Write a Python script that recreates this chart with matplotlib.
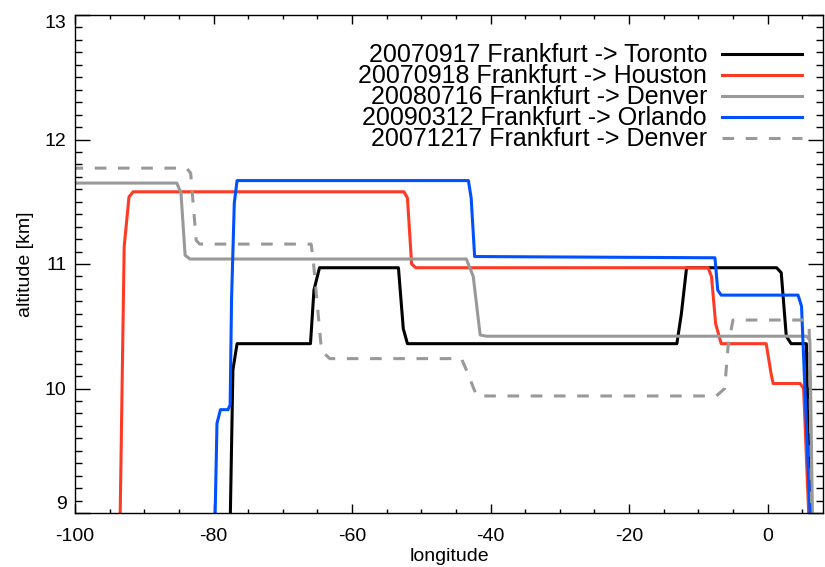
#!/usr/bin/env python3

import matplotlib
matplotlib.use("Agg")
import matplotlib.pyplot as plt
from matplotlib.ticker import MultipleLocator

plt.rcParams['font.family'] = ['Liberation Sans', 'DejaVu Sans']
plt.rcParams['axes.unicode_minus'] = False

# flight tracks: longitude [deg] vs altitude [km]
toronto_lon = [-77.6, -77.2, -76.6, -66.0, -65.5, -64.7, -53.3, -52.6, -52.0,
               -13.1, -12.45, -11.7, 1.3, 1.97, 2.7, 3.4, 5.6, 6.1]
toronto_alt = [8.9, 10.15, 10.36, 10.36, 10.79, 10.97, 10.97, 10.48, 10.36,
               10.36, 10.6, 10.97, 10.97, 10.93, 10.42, 10.36, 10.36, 9.0]

houston_lon = [-93.5, -92.9, -92.2, -91.6, -52.5, -52.0, -51.4, -50.8, -8.6,
               -8.1, -7.5, -6.7, -0.2, 0.5, 0.8, 4.7, 5.2, 6.0]
houston_alt = [8.9, 11.14, 11.54, 11.58, 11.58, 11.53, 11.0, 10.97, 10.97,
               10.9, 10.52, 10.36, 10.36, 10.12, 10.04, 10.04, 10.0, 8.9]

denver08_lon = [-100.5, -85.3, -84.7, -84.1, -83.4, -43.5, -42.5, -41.5, -40.6,
                5.6, 6.1, 6.5]
denver08_alt = [11.65, 11.65, 11.57, 11.07, 11.04, 11.04, 10.9, 10.43, 10.42,
                10.42, 10.39, 8.9]

orlando_lon = [-79.8, -79.5, -79.0, -77.9, -77.6, -77.4, -77.0, -76.6, -43.2,
               -42.8, -42.3, -7.6, -7.2, -6.7, 4.4, 4.9, 6.2]
orlando_alt = [8.9, 9.72, 9.83, 9.83, 9.87, 10.71, 11.49, 11.67, 11.67,
               11.53, 11.06, 11.05, 10.79, 10.75, 10.75, 10.66, 8.9]

denver07_lon = [-100.5, -83.9, -83.3, -82.5, -82.0, -65.9, -65.6, -64.4, -63.2,
                -44.2, -43.5, -42.0, -7.4, -6.2, -5.7, -5.0, 5.5, 6.0, 6.4]
denver07_alt = [11.77, 11.77, 11.73, 11.19, 11.16, 11.16, 11.03, 10.30, 10.24,
                10.24, 10.15, 9.94, 9.94, 10.0, 10.34, 10.55, 10.55, 10.5, 8.9]

labels = ['20070917 Frankfurt -> Toronto',
          '20070918 Frankfurt -> Houston',
          '20080716 Frankfurt -> Denver',
          '20090312 Frankfurt -> Orlando',
          '20071217 Frankfurt -> Denver']

alt_ticks = [9, 10, 11, 12, 13]

fig = plt.figure(figsize=(8.25, 5.67), dpi=100)
ax = fig.add_axes([75/825, 54/567, 748/825, 498/567])

lw = 2.2
ax.plot(toronto_lon, toronto_alt, color='black', lw=lw, label=labels[0])
ax.plot(houston_lon, houston_alt, color='#ff3a24', lw=lw, label=labels[1])
ax.plot(denver08_lon, denver08_alt, color='#999999', lw=lw, label=labels[2])
ax.plot(orlando_lon, orlando_alt, color='#0050ff', lw=lw, label=labels[3])
ax.plot(denver07_lon, denver07_alt, color='#999999', lw=lw, ls=(0, (3.8, 3.8)),
        label=labels[4])

ax.set_xlim(-100, 8)
ax.set_ylim(9, 13)
ax.xaxis.set_major_locator(MultipleLocator(20))
ax.xaxis.set_minor_locator(MultipleLocator(5))
ax.set_yticks(alt_ticks)
ax.yaxis.set_minor_locator(MultipleLocator(0.1))

ax.tick_params(which='both', direction='in', top=True, right=True, width=1,
               labelsize=14)
ax.tick_params(axis='x', which='major', length=6.5, pad=10.5)
ax.tick_params(axis='x', which='minor', length=3)
ax.tick_params(axis='y', which='major', length=10.8, pad=6)
ax.tick_params(axis='y', which='minor', length=5)
for s in ax.spines.values():
    s.set_linewidth(1)

# end labels stay inside the axis range
ylbls = ax.get_yticklabels()
ylbls[0].set_va('bottom')
ylbls[-1].set_va('top')

ax.set_xlabel('longitude', fontsize=14, labelpad=2.5)
ax.set_ylabel('altitude [km]', fontsize=14, labelpad=8)

ax.legend(loc='upper right', bbox_to_anchor=(0.972, 0.943), frameon=False,
          markerfirst=False, fontsize=18, handlelength=3.2, handletextpad=0.6,
          labelspacing=-0.12, borderpad=0, borderaxespad=0)

plt.savefig('out.png', dpi=100)
